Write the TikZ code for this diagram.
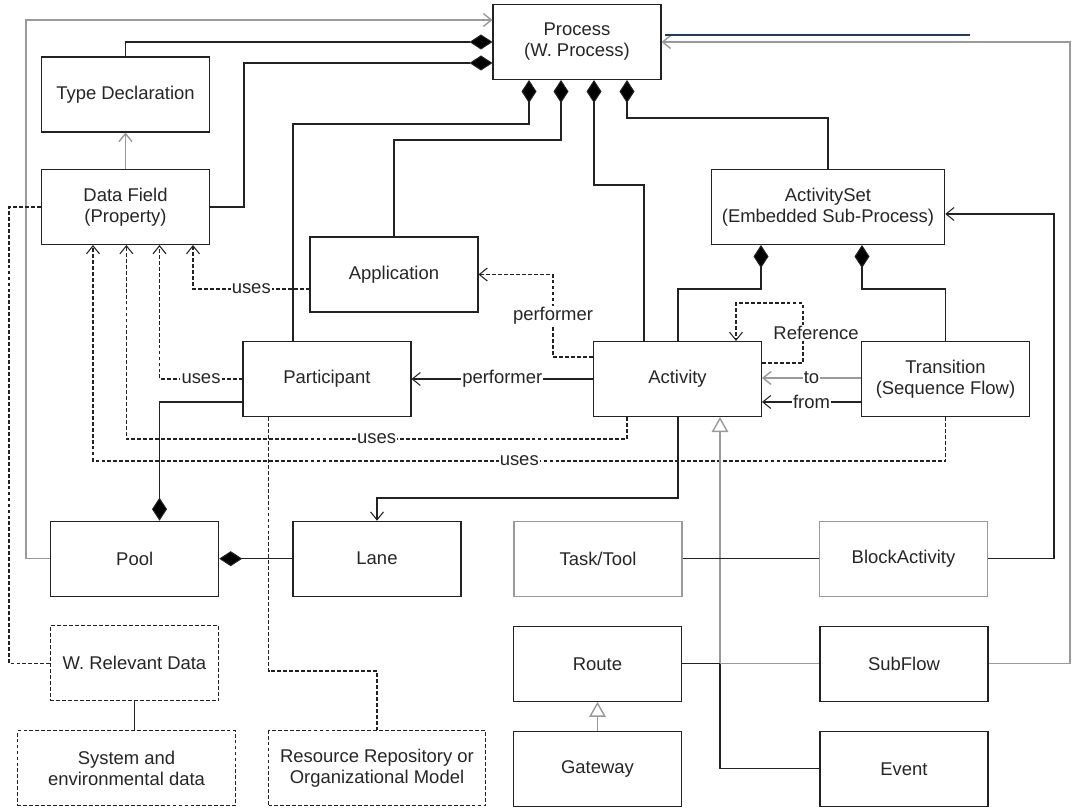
\documentclass[tikz,border=0pt]{standalone}
\usepackage{fontspec}
\setmainfont{Liberation Sans}
\usetikzlibrary{arrows.meta, positioning, calc}
\definecolor{wfline}{HTML}{222222}
\definecolor{wfgray}{HTML}{9A9A9A}
\definecolor{wfblue}{HTML}{1C3D6E}

\begin{document}
\begin{tikzpicture}[
  x=0.02cm, y=-0.02cm,
  every node/.style={font=\fontsize{10.5}{12}\selectfont, text=black!85},
  box/.style={draw=wfline, line width=0.6pt, fill=white, align=center, minimum width=3.36cm, minimum height=1.5cm, inner sep=0pt},
  lightbox/.style={box, draw=wfgray},
  dashbox/.style={box, dash pattern=on 2.2pt off 1.2pt},
  lbl/.style={fill=white, inner sep=0.6pt},
  line/.style={draw=wfline, line width=0.6pt},
  grayline/.style={draw=wfgray, line width=0.8pt},
  dashline/.style={line, dash pattern=on 2.2pt off 1.2pt},
  comp/.style={-{Diamond[fill=black, length=4.6mm, width=3mm]}},
  barb/.style={-{Straight Barb[length=1.6mm, width=2.6mm]}},
  gen/.style={-{Triangle[open, fill=white, length=3mm, width=3.3mm]}},
  blueline/.style={draw=wfblue, line width=1.2pt}
]
\useasboundingbox (0,0) rectangle (1080,810);

\node[box] (proc) at (577,42) {Process\\(W. Process)};
\node[box] (typedecl) at (125.5,94.5) {Type Declaration};
\node[box] (datafield) at (125.5,207) {Data Field\\(Property)};
\node[box] (appl) at (394,274.5) {Application};
\node[box] (part) at (327,379) {Participant};
\node[box] (activity) at (677.5,379) {Activity};
\node[box, minimum width=4.67cm] (actset) at (828,207) {ActivitySet\\(Embedded Sub-Process)};
\node[box] (trans) at (945.5,379) {Transition\\(Sequence Flow)};
\node[box] (pool) at (134.7,558.7) {Pool};
\node[box] (lane) at (377,558.7) {Lane};
\node[lightbox] (task) at (598,558.7) {Task/Tool};
\node[lightbox] (block) at (903.5,558.7) {BlockActivity};
\node[dashbox] (wrd) at (134.5,663.3) {W. Relevant Data};
\node[dashbox, minimum width=4.37cm] (sysdata) at (126.5,768.3) {System and\\environmental data};
\node[dashbox, minimum width=4.34cm] (resrepo) at (377,768.3) {Resource Repository or\\Organizational Model};
\node[box] (route) at (597.5,663.8) {Route};
\node[box] (subflow) at (904,663.8) {SubFlow};
\node[box] (gateway) at (597.5,768.8) {Gateway};
\node[box] (event) at (904,768.8) {Event};

% parts of the process
\draw[line, comp] (typedecl.north) |- (proc.west |- 0,42);
\draw[line, comp] (datafield.east) -- ++(34,0) |- (proc.west |- 0,63);
\draw[line, comp] (293,0 |- part.north) |- (529,124) -- (529,0 |- proc.south);
\draw[line, comp] (appl.north) |- (561,140) -- (561,0 |- proc.south);
\draw[line, comp] (644,0 |- activity.north) |- (594,185) -- (594,0 |- proc.south);
\draw[line, comp] (actset.north) |- (627,118) -- (627,0 |- proc.south);
\draw[line, comp] (678,0 |- activity.north) |- (761,289) -- (761,0 |- actset.south);
\draw[line, comp] (trans.north) |- (862,289) -- (862,0 |- actset.south);
\draw[line, comp] (part.west |- 0,402) -| (159.5,0 |- pool.north);
\draw[line, comp] (lane.west) -- (pool.east);

% references
\draw[grayline, barb] (datafield.north) -- (typedecl.south);
\draw[grayline, barb] (pool.west) -| (26,20) -- (proc.west |- 0,20);
\draw[grayline, barb] (subflow.east) -| (1070,42) -- (proc.east |- 0,42);
\draw[line, barb] (block.east) -| (1054,214) -- (actset.east |- 0,214);
\draw[line, barb] (activity.west) -- node[lbl] {performer} (part.east);
\draw[dashline, barb] (activity.west |- 0,357) -| node[lbl, pos=0.75] {performer} (553,0 |- appl.east) -- (appl.east);
\draw[dashline, barb] (activity.east |- 0,363) -| node[lbl, pos=0.75, xshift=2.6mm] {Reference} (803,303) -| (736,0 |- activity.north);
\draw[grayline, barb] (trans.west |- 0,378) -- node[lbl] {to} (activity.east |- 0,378);
\draw[line, barb] (trans.west |- 0,402) -- node[lbl] {from} (activity.east |- 0,402);
\draw[line, barb] (678,0 |- activity.south) |- (377,498) -- (lane.north);

% uses
\draw[dashline, barb] (appl.west |- 0,289) -| node[lbl, pos=0.25] {uses} (193,0 |- datafield.south);
\draw[dashline, barb] (part.west) -| node[lbl, pos=0.25] {uses} (159.5,0 |- datafield.south);
\draw[dashline, barb] (627,0 |- activity.south) |- node[lbl, pos=0.75] {uses} (126.4,439) -- (126.4,0 |- datafield.south);
\draw[dashline, barb] (trans.south) |- node[lbl, pos=0.75] {uses} (93,461) -- (93,0 |- datafield.south);

% outside data
\draw[dashline] (datafield.west) -| (9,0 |- wrd.west) -- (wrd.west);
\draw[line] (wrd.south) -- (wrd.south |- sysdata.north);
\draw[dashline] (268.6,0 |- part.south) |- (resrepo.north |- 0,671) -- (resrepo.north);

% kinds of activity
\draw[grayline, gen] (720,0 |- route.east) -- (720,0 |- activity.south);
\draw[line] (720,0 |- route.east) |- (event.west);
\draw[line] (task.east) -- (block.west);
\draw[line] (route.east) -- (720,0 |- route.east);
\draw[grayline] (720,0 |- route.east) -- (subflow.west);
\draw[grayline, gen] (gateway.north) -- (route.south);

\coordinate (bluestart) at (665,35);
\coordinate (blueend) at (970,35);
\draw[blueline] (bluestart) -- (blueend);
\end{tikzpicture}
\end{document}
